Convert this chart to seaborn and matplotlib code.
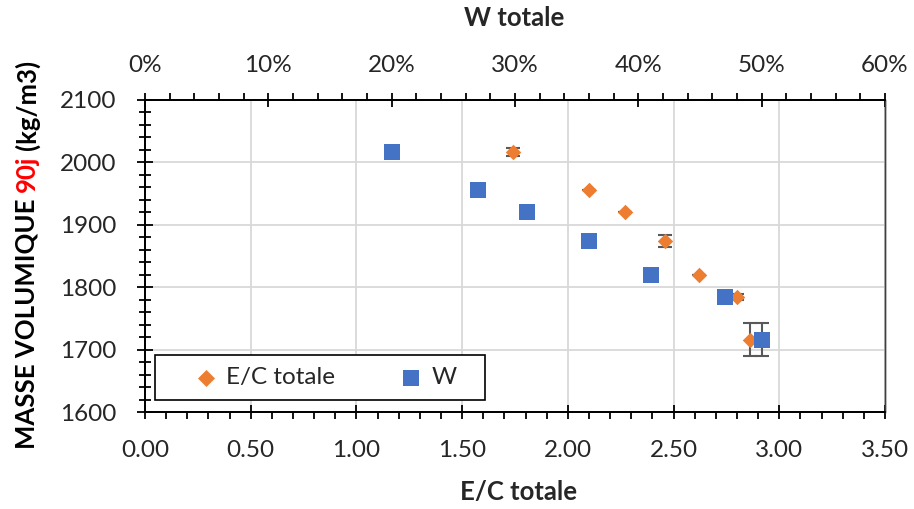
import matplotlib
matplotlib.use("Agg")
import numpy as np
import pandas as pd
import matplotlib.pyplot as plt
import seaborn as sns
from matplotlib.ticker import MultipleLocator, PercentFormatter, FormatStrFormatter
from matplotlib.patches import Rectangle

# values
ec_totale = [1.74, 2.10, 2.27, 2.46, 2.62, 2.80, 2.86]
w_totale = [0.20, 0.27, 0.31, 0.36, 0.41, 0.47, 0.50]
masse_vol = [2017, 1956, 1921, 1874, 1819, 1784, 1716]
masse_err = [6, 0, 0, 10, 0, 5, 27]

ORANGE = "#ED7D31"
BLUE = "#4472C4"
ERR_COLOR = "#595959"
GRID_COLOR = "#D9D9D9"
FS = 17.5
TITLE_FS = 18.5

sns.set_theme(style="white")
plt.rcParams["font.family"] = ["Lato", "DejaVu Sans"]

df = pd.DataFrame({"ec": ec_totale, "w": w_totale, "rho": masse_vol, "err": masse_err})

W_PX, H_PX = 914, 509
fig = plt.figure(figsize=(W_PX / 100, H_PX / 100), dpi=100)
left, right, top, bottom = 145, 885, 100, 412
ax = fig.add_axes([left / W_PX, 1 - bottom / H_PX, (right - left) / W_PX, (bottom - top) / H_PX])
ax2 = ax.twiny()

# E/C series on the bottom axis
ax.errorbar(df["ec"], df["rho"], yerr=df["err"], fmt="none", ecolor=ERR_COLOR,
            elinewidth=1.5, capsize=5, capthick=1.5, zorder=2)
sns.scatterplot(data=df, x="ec", y="rho", ax=ax, marker="D", s=62, color=ORANGE,
                linewidth=0, zorder=3, label="E/C totale", legend=False)

# W series on the top axis
ax2.errorbar(df["w"], df["rho"], yerr=df["err"], fmt="none", ecolor=ERR_COLOR,
             elinewidth=1.5, capsize=5, capthick=1.5, zorder=2)
sns.scatterplot(data=df, x="w", y="rho", ax=ax2, marker="s", s=118, color=BLUE,
                linewidth=0, zorder=3, label="W", legend=False)

ax.set_xlim(0, 3.5)
ax.set_ylim(1600, 2100)
ax2.set_xlim(0, 0.6)

ax.xaxis.set_major_locator(MultipleLocator(0.5))
ax.xaxis.set_minor_locator(MultipleLocator(0.1))
ax.xaxis.set_major_formatter(FormatStrFormatter("%.2f"))
ax.yaxis.set_major_locator(MultipleLocator(100))
ax.yaxis.set_minor_locator(MultipleLocator(20))
ax2.xaxis.set_major_locator(MultipleLocator(0.1))
ax2.xaxis.set_minor_locator(MultipleLocator(0.02))
ax2.xaxis.set_major_formatter(PercentFormatter(xmax=1, decimals=0))

ax.tick_params(axis="x", which="major", bottom=True, direction="inout", length=10, width=1.3,
               color="black", labelsize=FS, pad=15)
ax.tick_params(axis="x", which="minor", bottom=True, direction="out", length=5, width=1.3, color="black")
ax.tick_params(axis="y", which="major", left=True, direction="inout", length=11, width=1.3,
               color="black", labelsize=FS, pad=15)
ax.tick_params(axis="y", which="minor", left=True, direction="inout", length=8, width=1.3, color="black")
ax2.tick_params(axis="x", which="major", top=True, direction="inout", length=10, width=1.3,
                color="black", labelsize=FS, pad=12)
ax2.tick_params(axis="x", which="minor", top=True, direction="out", length=5, width=1.3, color="black")

ax.grid(True, which="major", color=GRID_COLOR, linewidth=1.3)
ax2.grid(False)
ax.set_axisbelow(True)

for a in (ax, ax2):
    a.set_xlabel("")
    a.set_ylabel("")
    for side in ("left", "bottom", "top"):
        a.spines[side].set_color("black")
        a.spines[side].set_linewidth(1.3)
    a.spines["right"].set_color("#404040")
    a.spines["right"].set_linewidth(1.0)

# legend with a fixed box like the original
ax2.add_patch(Rectangle((0.0135, 0.038), 0.446, 0.144, transform=ax2.transAxes,
                        facecolor="white", edgecolor="black", linewidth=1.2, zorder=4))
h1, l1 = ax.get_legend_handles_labels()
h2, l2 = ax2.get_legend_handles_labels()
ax2.legend(h1 + h2, l1 + l2, loc="center", bbox_to_anchor=(0.243, 0.11), ncol=2,
           frameon=False, fontsize=FS, handlelength=1.0, handletextpad=0.35,
           columnspacing=2.6, markerscale=1.1).set_zorder(5)

fig.text(518 / W_PX, 1 - 492 / H_PX, "E/C totale", ha="center", va="center",
         fontsize=TITLE_FS, fontweight="bold")
fig.text(514 / W_PX, 1 - 18 / H_PX, "W totale", ha="center", va="center",
         fontsize=TITLE_FS, fontweight="bold")

# vertical y label with "90j" in red
renderer = fig.canvas.get_renderer()
parts = [("MASSE VOLUMIQUE", "black"), ("90j", "red"), ("(kg/m3)", "black")]
gap = 6
texts = []
lengths = []
for s, c in parts:
    t = fig.text(0, 0, s, rotation=90, ha="center", va="bottom", fontsize=TITLE_FS,
                 fontweight="bold", color=c)
    lengths.append(t.get_window_extent(renderer).height)
    texts.append(t)
total = sum(lengths) + gap * (len(parts) - 1)
y0 = (H_PX - 254) - total / 2
x_c = 27
for t, L in zip(texts, lengths):
    t.set_position((x_c / W_PX, y0 / H_PX))
    y0 += L + gap

fig.savefig("out.png", dpi=100)
